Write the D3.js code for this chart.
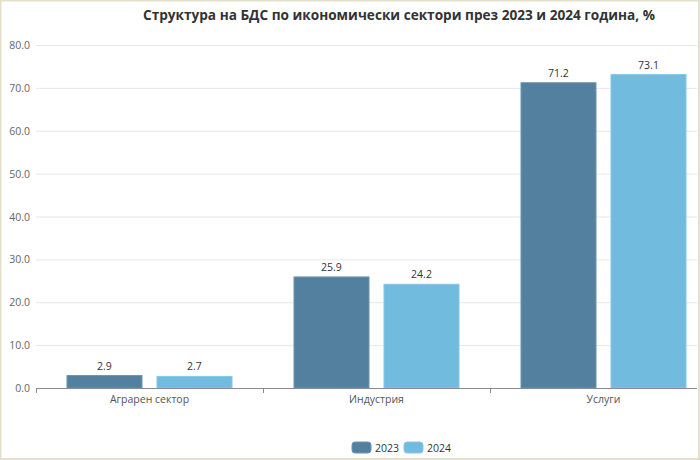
<!DOCTYPE html>
<html><head><meta charset="utf-8">
<script src="https://cdn.jsdelivr.net/npm/d3@7"></script>
<style>
html,body{margin:0;padding:0;background:#fff;}
svg{display:block;}
</style></head>
<body>
<svg id="c" width="700" height="460"></svg>
<script>
const categories = ["Аграрен сектор", "Индустрия", "Услуги"];
const seriesNames = ["2023", "2024"];
const values2023 = [2.9, 25.9, 71.2];
const values2024 = [2.7, 24.2, 73.1];
const yTicks = [0, 10, 20, 30, 40, 50, 60, 70, 80];
const titleText = "Структура на БДС по икономически сектори през 2023 и 2024 година, %";
const colors = ["#54809f", "#71bbdf"];

const svg = d3.select("#c");
const W = 700, H = 460;
svg.append("rect").attr("x",0.5).attr("y",0.5).attr("width",W-1.5).attr("height",H-1.5)
  .attr("fill","#fff").attr("stroke","#e3e0cc").attr("stroke-width",2);

const x0 = d3.scaleBand().domain(categories).range([36, 717]).paddingInner(0).paddingOuter(0);
const x1 = d3.scaleBand().domain(seriesNames).range([31, 196]).paddingInner(0.1667);
const y = d3.scaleLinear().domain([0, 80]).range([388, 45]);

svg.append("defs").append("clipPath").attr("id","clip")
  .append("rect").attr("x",0).attr("y",0).attr("width",697).attr("height",H);

const g = svg.append("g").attr("clip-path","url(#clip)");

// gridlines
g.selectAll("line.grid").data(yTicks.filter(d=>d>0)).enter().append("line")
  .attr("x1",36).attr("x2",717).attr("y1",d=>y(d)+0.5).attr("y2",d=>y(d)+0.5)
  .attr("stroke","#e4e6f2").attr("stroke-width",1);

// y labels
svg.selectAll("text.yl").data(yTicks).enter().append("text")
  .attr("x",30).attr("y",d=>y(d)+4).attr("text-anchor","end")
  .attr("font-family","'Open Sans', sans-serif").attr("font-size",10.5).attr("fill","#666")
  .text(d=>d.toFixed(1));

const data = categories.map((c,i)=>({cat:c, vals:[values2023[i], values2024[i]]}));

const grp = g.selectAll("g.cat").data(data).enter().append("g")
  .attr("transform",d=>`translate(${x0(d.cat)},0)`);
grp.selectAll("rect").data(d=>d.vals.map((v,j)=>({v, s:seriesNames[j], j}))).enter().append("rect")
  .attr("x",d=>x1(d.s)).attr("width",x1.bandwidth())
  .attr("y",d=>y(d.v)).attr("height",d=>y(0)-y(d.v))
  .attr("fill",d=>colors[d.j]).attr("stroke",(d)=>d.j===0?"#6a93b2":"#86c7e6").attr("stroke-width",1);
grp.selectAll("text").data(d=>d.vals.map((v,j)=>({v, s:seriesNames[j], j}))).enter().append("text")
  .attr("x",d=>x1(d.s)+x1.bandwidth()/2).attr("y",d=>y(d.v)-6).attr("text-anchor","middle")
  .attr("font-family","'Open Sans', sans-serif").attr("font-size",10.5).attr("fill","#333")
  .text(d=>d.v.toFixed(1));

// x axis
g.append("line").attr("x1",36).attr("x2",717).attr("y1",388.5).attr("y2",388.5)
  .attr("stroke","#8a8a96").attr("stroke-width",1.2);
g.selectAll("line.tick").data(categories).enter().append("line")
  .attr("x1",d=>x0(d)+0.5).attr("x2",d=>x0(d)+0.5).attr("y1",388).attr("y2",393)
  .attr("stroke","#8a8a96");
svg.selectAll("text.xl").data(categories).enter().append("text")
  .attr("x",d=>x0(d)+x0.bandwidth()/2).attr("y",403).attr("text-anchor","middle")
  .attr("font-family","'Open Sans', sans-serif").attr("font-size",10.5).attr("fill","#555")
  .text(d=>d);

// title
svg.append("text").attr("x",143).attr("y",20)
  .attr("font-family","'Open Sans', sans-serif").attr("font-weight","bold").attr("font-size",14)
  .attr("fill","#333").attr("textLength",512).attr("lengthAdjust","spacingAndGlyphs")
  .text(titleText);

// legend
const leg = [{n:seriesNames[0], x:352}, {n:seriesNames[1], x:404}];
leg.forEach((l,i)=>{
  svg.append("rect").attr("x",l.x).attr("y",442).attr("width",19).attr("height",11).attr("rx",3)
    .attr("fill",colors[i]).attr("stroke",i===0?"#6a93b2":"#86c7e6");
  svg.append("text").attr("x",l.x+23).attr("y",451.5)
    .attr("font-family","'Open Sans', sans-serif").attr("font-size",10.5).attr("fill","#333")
    .text(l.n);
});
</script>
</body></html>
